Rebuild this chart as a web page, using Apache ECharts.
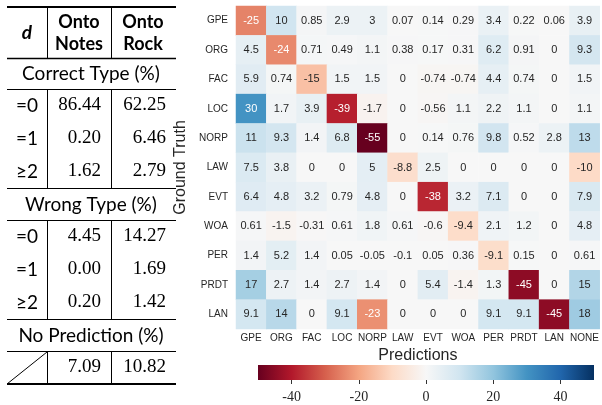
<!DOCTYPE html>
<html><head><meta charset="utf-8">
<script src="https://cdn.jsdelivr.net/npm/echarts@6.0.0/dist/echarts.min.js"></script>
<style>html,body{margin:0;padding:0;background:#fff}#c{width:602px;height:405px}</style>
</head><body><div id="c"></div>
<script>
// ---------- heatmap data ----------
const predCats = ['GPE','ORG','FAC','LOC','NORP','LAW','EVT','WOA','PER','PRDT','LAN','NONE'];
const truthCats = ['GPE','ORG','FAC','LOC','NORP','LAW','EVT','WOA','PER','PRDT','LAN'];
const rowGPE  = [-25, 10, 0.85, 2.9, 3, 0.07, 0.14, 0.29, 3.4, 0.22, 0.06, 3.9];
const rowORG  = [4.5, -24, 0.71, 0.49, 1.1, 0.38, 0.17, 0.31, 6.2, 0.91, 0, 9.3];
const rowFAC  = [5.9, 0.74, -15, 1.5, 1.5, 0, -0.74, -0.74, 4.4, 0.74, 0, 1.5];
const rowLOC  = [30, 1.7, 3.9, -39, -1.7, 0, -0.56, 1.1, 2.2, 1.1, 0, 1.1];
const rowNORP = [11, 9.3, 1.4, 6.8, -55, 0, 0.14, 0.76, 9.8, 0.52, 2.8, 13];
const rowLAW  = [7.5, 3.8, 0, 0, 5, -8.8, 2.5, 0, 0, 0, 0, -10];
const rowEVT  = [6.4, 4.8, 3.2, 0.79, 4.8, 0, -38, 3.2, 7.1, 0, 0, 7.9];
const rowWOA  = [0.61, -1.5, -0.31, 0.61, 1.8, 0.61, -0.6, -9.4, 2.1, 1.2, 0, 4.8];
const rowPER  = [1.4, 5.2, 1.4, 0.05, -0.05, -0.1, 0.05, 0.36, -9.1, 0.15, 0, 0.61];
const rowPRDT = [17, 2.7, 1.4, 2.7, 1.4, 0, 5.4, -1.4, 1.3, -45, 0, 15];
const rowLAN  = [9.1, 14, 0, 9.1, -23, 0, 0, 0, 9.1, 9.1, -45, 18];
const colorbarTicks = [-40, -20, 0, 20, 40];

// ---------- table data ----------
const headD = 'd';
const headNotes = ['Onto', 'Notes'];
const headRock = ['Onto', 'Rock'];
const sectionTitles = ['Correct Type (%)', 'Wrong Type (%)', 'No Prediction (%)'];
const distLabels = ['=0', '=1', '≥2'];
const notesCorrect = [86.44, 0.20, 1.62];
const rockCorrect  = [62.25, 6.46, 2.79];
const notesWrong   = [4.45, 0.00, 0.20];
const rockWrong    = [14.27, 1.69, 1.42];
const notesNoPred  = [7.09];
const rockNoPred   = [10.82];

// ---------- build ----------
const matrix = [rowGPE,rowORG,rowFAC,rowLOC,rowNORP,rowLAW,rowEVT,rowWOA,rowPER,rowPRDT,rowLAN];
const heatData = [];
matrix.forEach((row, i) => row.forEach((v, j) => {
  heatData.push({ value: [j, i, v], label: { color: Math.abs(v) >= 20 ? '#ffffff' : '#262626' } });
}));

const RdBu = ['#67001f','#b2182b','#d6604d','#f4a582','#fddbc7','#f7f7f7','#d1e5f0','#92c5de','#4393c3','#2166ac','#053061'];
const gradient = { type: 'linear', x: 0, y: 0, x2: 1, y2: 0,
  colorStops: RdBu.map((c, k) => ({ offset: k / (RdBu.length - 1), color: c })) };

const SANS = 'Lato, sans-serif';
const SERIF = '"Liberation Serif", serif';
const ARIAL = '"Liberation Sans", Arial, sans-serif';

// table layout
const G = [];
const L = 7, R = 176, V1 = 47, V2 = 111;
function hline(y, w) { G.push({ type: 'line', shape: { x1: L, y1: y, x2: R, y2: y }, style: { stroke: '#000', lineWidth: w } }); }
function vline(x, y1, y2) { G.push({ type: 'line', shape: { x1: x, y1: y1, x2: x, y2: y2 }, style: { stroke: '#000', lineWidth: 1 } }); }
function txt(s, x, y, font, align) {
  G.push({ type: 'text', x: x, y: y, style: { text: s, font: font, fill: '#000', textAlign: align || 'center', textVerticalAlign: 'middle' } });
}
hline(7, 2.2);
vline(V1 + 0.5, 7, 58); vline(V2 + 0.5, 7, 58);
txt(headD, 27, 33, 'italic bold 19px ' + SANS);
txt(headNotes[0], 79, 22, 'bold 18px ' + SANS); txt(headNotes[1], 79, 44, 'bold 18px ' + SANS);
txt(headRock[0], 143, 22, 'bold 18px ' + SANS); txt(headRock[1], 143, 44, 'bold 18px ' + SANS);
hline(58.5, 1.3);

function section(title, top, notes, rock, labels) {
  txt(title, 91, top + 16, '19px ' + SANS);
  hline(top + 31.5, 1.2);
  const rt = top + 31, rh = 33;
  const n = notes.length;
  vline(V1 + 0.5, rt, rt + rh * n); vline(V2 + 0.5, rt, rt + rh * n);
  for (let k = 0; k < n; k++) {
    const cy = rt + rh * k + rh / 2;
    if (labels) txt(labels[k], 27, cy, '19px ' + SANS);
    txt(notes[k].toFixed(2), 101, cy, '19px ' + SERIF, 'right');
    txt(rock[k].toFixed(2), 166, cy, '19px ' + SERIF, 'right');
  }
  return rt + rh * n;
}
let b1 = section(sectionTitles[0], 58, notesCorrect, rockCorrect, distLabels);
hline(b1 + 0.5, 1.2);
let b2 = section(sectionTitles[1], b1 + 1, notesWrong, rockWrong, distLabels);
hline(b2 + 0.5, 1.2);
let b3 = section(sectionTitles[2], b2 + 1, notesNoPred, rockNoPred, null);
G.push({ type: 'line', shape: { x1: L, y1: b3, x2: V1, y2: b2 + 33 }, style: { stroke: '#000', lineWidth: 1 } });
hline(b3, 2.2);

const chart = echarts.init(document.getElementById('c'), null, { renderer: 'canvas' });
chart.setOption({
  backgroundColor: '#ffffff',
  animation: false,
  textStyle: { fontFamily: ARIAL },
  graphic: G,
  grid: [
    { left: 236, top: 6, width: 364, height: 323 },
    { left: 258, top: 365, width: 336, height: 15, show: true, backgroundColor: gradient, borderWidth: 0 }
  ],
  xAxis: [
    { type: 'category', data: predCats, gridIndex: 0,
      axisLine: { show: false }, axisTick: { show: false }, splitLine: { show: false },
      axisLabel: { fontSize: 10, fontFamily: ARIAL, color: '#262626', margin: 4, interval: 0 },
      name: 'Predictions', nameLocation: 'middle', nameGap: 16,
      nameTextStyle: { fontSize: 16, fontFamily: ARIAL, color: '#262626' } },
    { type: 'value', gridIndex: 1, min: -50, max: 50,
      axisLine: { show: false }, splitLine: { show: false },
      axisTick: { show: true, customValues: colorbarTicks, length: 4, lineStyle: { color: '#333' } },
      axisLabel: { customValues: colorbarTicks, fontFamily: SERIF, fontSize: 14, color: '#262626', margin: 10,
        formatter: v => '{s|' + v + '}',
        rich: { s: { fontFamily: SERIF, fontSize: 14, color: '#262626' } } } }
  ],
  yAxis: [
    { type: 'category', data: truthCats, gridIndex: 0, inverse: true,
      axisLine: { show: false }, axisTick: { show: false }, splitLine: { show: false },
      axisLabel: { fontSize: 10, fontFamily: ARIAL, color: '#262626', margin: 8, interval: 0 },
      name: 'Ground Truth', nameLocation: 'middle', nameGap: 45, nameRotate: 90,
      nameTextStyle: { fontSize: 16, fontFamily: ARIAL, color: '#262626' } },
    { type: 'value', gridIndex: 1, show: false, min: 0, max: 1 }
  ],
  visualMap: { show: false, type: 'continuous', min: -50, max: 50, seriesIndex: 0, inRange: { color: RdBu } },
  series: [{
    type: 'heatmap', xAxisIndex: 0, yAxisIndex: 0, data: heatData,
    label: { show: true, fontSize: 11, fontFamily: ARIAL, formatter: p => String(p.value[2]) },
    emphasis: { disabled: true }, itemStyle: { borderWidth: 0 }
  }]
});
</script></body></html>
